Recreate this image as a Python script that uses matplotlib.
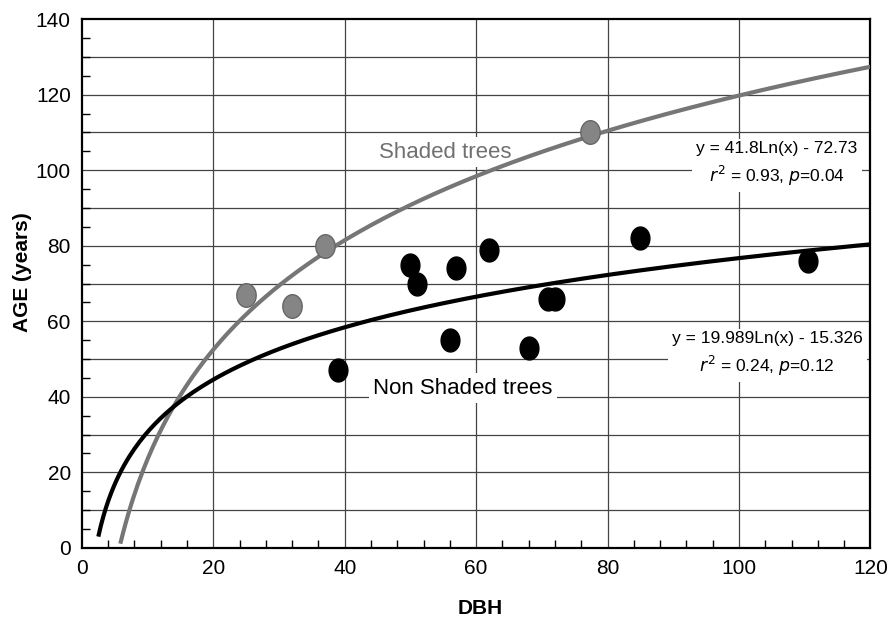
import numpy as np
import matplotlib
matplotlib.use("Agg")
import matplotlib.pyplot as plt
from matplotlib.path import Path
from matplotlib.markers import MarkerStyle
from matplotlib.ticker import MultipleLocator

plt.rcParams["font.family"] = ["Liberation Sans", "DejaVu Sans"]

# --- data ---
shaded_dbh = [25, 32, 37, 77.4]
shaded_age = [67, 64, 80, 110]

open_dbh = [39, 50, 51, 56, 57, 62, 68, 71, 72, 85, 110.5]
open_age = [47, 75, 70, 55, 74, 79, 53, 66, 66, 82, 76]

# log fits printed on the chart: y = a*ln(x) + b
shaded_fit = (41.8, -72.73)
open_fit = (19.989, -15.326)
shaded_x_range = (5.85, 120)
open_x_range = (2.5, 120)

# ellipse marker (slightly taller than wide)
t = np.linspace(0, 2 * np.pi, 60)
ellipse = MarkerStyle(Path(np.column_stack([0.82 * np.cos(t), np.sin(t)]), closed=True))

fig = plt.figure(figsize=(8.9, 6.17), dpi=100)
ax = fig.add_axes([0.092, 0.112, 0.886, 0.857])

xs = np.linspace(*shaded_x_range, 300)
ax.plot(xs, shaded_fit[0] * np.log(xs) + shaded_fit[1], color="#767676", lw=3,
        solid_capstyle="butt", zorder=3)
xo = np.linspace(*open_x_range, 300)
ax.plot(xo, open_fit[0] * np.log(xo) + open_fit[1], color="black", lw=3,
        solid_capstyle="butt", zorder=3)

ax.plot(shaded_dbh, shaded_age, ls="none", marker=ellipse, ms=17,
        mfc="#858585", mec="#666666", mew=1, zorder=4)
ax.plot(open_dbh, open_age, ls="none", marker=ellipse, ms=16.5,
        mfc="black", mec="black", zorder=4)

box = dict(facecolor="white", edgecolor="none", pad=3)
ax.text(55.3, 104.8, "Shaded trees", color="#707070", fontsize=16,
        ha="center", va="center", bbox=box, zorder=2)
ax.text(58, 42.3, "Non Shaded trees", color="black", fontsize=16,
        ha="center", va="center", bbox=box, zorder=2)
ax.text(105.8, 101.6, "y = 41.8Ln(x) - 72.73\n$\\it{r}^2$ = 0.93, $\\it{p}$=0.04",
        fontsize=12.5, ha="center", va="center", linespacing=1.45, bbox=box, zorder=2)
ax.text(104.3, 51.3, "y = 19.989Ln(x) - 15.326\n$\\it{r}^2$ = 0.24, $\\it{p}$=0.12",
        fontsize=12.5, ha="center", va="center", linespacing=1.45, bbox=box, zorder=2)

ax.set_xlim(0, 120)
ax.set_ylim(0, 140)
ax.xaxis.set_major_locator(MultipleLocator(20))
ax.xaxis.set_minor_locator(MultipleLocator(4))
ax.yaxis.set_major_locator(MultipleLocator(20))
ax.yaxis.set_minor_locator(MultipleLocator(5))

for yv in range(10, 140, 10):
    ax.axhline(yv, color="#444444", lw=0.9, zorder=1)
for xv in range(20, 120, 20):
    ax.axvline(xv, color="#444444", lw=0.9, zorder=1)

ax.tick_params(which="both", direction="in", top=False, right=False)
ax.tick_params(which="major", length=0, labelsize=15, pad=8)
ax.tick_params(which="minor", length=6, width=1)
for s in ax.spines.values():
    s.set_linewidth(1.6)

ax.set_xlabel("DBH", fontsize=15, fontweight="bold")
ax.xaxis.set_label_coords(0.505, -0.097)
ax.set_ylabel("AGE (years)", fontsize=15, fontweight="bold")
ax.yaxis.set_label_coords(-0.063, 0.522)

fig.savefig("out.png", dpi=100)
